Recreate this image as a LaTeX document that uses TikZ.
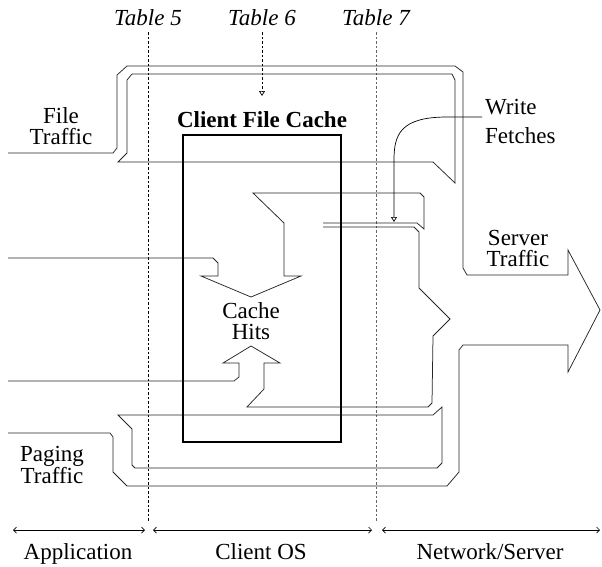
\documentclass[tikz,border=0pt]{standalone}
\usepackage{fontspec}
\setmainfont{Liberation Serif}
\usetikzlibrary{arrows.meta}
\newcommand\twolinesC[2]{\vtop{\halign{\hfil##\hfil\cr#1\cr#2\cr}}}
\newcommand\twolinesL[2]{\vtop{\halign{##\hfil\cr#1\cr#2\cr}}}
\begin{document}
\begin{tikzpicture}[x=1pt,y=-1pt,
  lbl/.style={inner sep=0pt, anchor=base, font=\fontsize{23}{21}\selectfont},
  flow/.style={line width=0.75pt, black!85, line join=miter},
  tabline/.style={line width=0.7pt, dash pattern=on 2.5pt off 2pt},
  cachebox/.style={draw, line width=2.6pt, inner sep=0pt, minimum width=158pt, minimum height=307pt},
  span/.style={line width=0.7pt, {Straight Barb[length=3pt,width=6pt]}-{Straight Barb[length=3pt,width=6pt]}},
  opentip/.style={-{Triangle[open,length=5pt,width=6pt]}}]
\useasboundingbox (0,0) rectangle (602,566);

% table labels
\node[lbl, font=\fontsize{23}{21}\selectfont\itshape] (t5) at (148,25) {Table 5};
\node[lbl, font=\fontsize{23}{21}\selectfont\itshape] (t6) at (262,25) {Table 6};
\node[lbl, font=\fontsize{23}{21}\selectfont\itshape] (t7) at (376,25) {Table 7};
\coordinate (t5end) at (148,522);
\coordinate (t6end) at (262,96);
\coordinate (t7end) at (376,522);
\draw[tabline] ([yshift=-7pt]t5.south) -- (t5end);
\draw[tabline, black!60] ([yshift=-7pt]t7.south) -- (t7end);
\draw[tabline, opentip] ([yshift=-7pt]t6.south) -- (t6end);

% outer contour
\draw[flow] (8,153) -- (113,153) -- (117,148) -- (117,75) -- (127,66) -- (455,66)
  -- (463,72) -- (463,268) -- (467,275) -- (568,275) -- (568,250) -- (600,310)
  -- (568,372) -- (568,345) -- (463,345) -- (459,350) -- (459,472) -- (447,486)
  -- (127,486) -- (113,472) -- (113,437) -- (110,433) -- (8,433);

% inner file traffic loop
\draw[flow] (118,162) -- (127,153) -- (127,80) -- (132,74) -- (452,74) -- (455,80)
  -- (455,183) -- (433,162) -- cycle;

% down arrow and write flow
\draw[flow] (8,258) -- (213,258) -- (218,263) -- (218,276) -- (201,276) -- (251,297)
  -- (301,276) -- (284,276) -- (284,223) -- (253,193) -- (420,193) -- (424,197)
  -- (424,229) -- (417,223) -- (323,223);

% up arrow and return flow
\draw[flow] (323,227) -- (414,227) -- (419,232) -- (419,288) -- (450,319) -- (433,336)
  -- (432,403) -- (428,407) -- (247,407) -- (264,389) -- (264,363) -- (280,363)
  -- (251,346) -- (223,363) -- (239,363) -- (239,377) -- (234,381) -- (8,381);

% bottom loop
\draw[flow] (118,415) -- (433,415) -- (442,407) -- (442,463) -- (437,468) -- (135,468)
  -- (132,465) -- (132,429) -- cycle;

% cache box
\node[cachebox] (cache) at (262,288.5) {};
\node[lbl, font=\fontsize{23}{21}\selectfont\bfseries] (cfc) at (262,127) {Client File Cache};

% labels
\node[lbl] (ft) at (61,123) {\twolinesC{File}{Traffic}};
\node[lbl, anchor=base west, font=\fontsize{23}{29}\selectfont] (wf) at (485,114) {\twolinesL{Write}{Fetches}};
\node[lbl] (st) at (518,245) {\twolinesC{Server}{Traffic}};
\node[lbl] (ch) at (251,318) {\twolinesC{Cache}{Hits}};
\node[lbl] (pt) at (52,461) {\twolinesC{Paging}{Traffic}};

% write fetches connector
\coordinate (wfend) at (394,222);
\draw[line width=0.7pt, opentip] ([xshift=-3pt,yshift=-3pt]wf.base west) -- (447,117)
  .. controls (400,117) and (394,135) .. (394,160) -- (wfend);

% bottom spans
\coordinate (a1) at (13,530); \coordinate (a2) at (145,530);
\coordinate (c1) at (153,530); \coordinate (c2) at (372,530);
\coordinate (n1) at (382,530); \coordinate (n2) at (600,530);
\draw[span] (a1) -- (a2);
\draw[span] (c1) -- (c2);
\draw[span] (n1) -- (n2);
\node[lbl] (app) at (78,559) {Application};
\node[lbl] (cos) at (261,559) {Client OS};
\node[lbl] (ns) at (490,559) {Network/Server};
\end{tikzpicture}
\end{document}
